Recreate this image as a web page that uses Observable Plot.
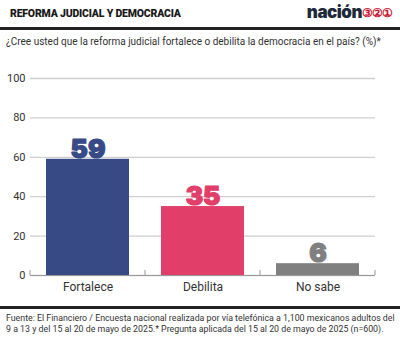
<!DOCTYPE html>
<html><head><meta charset="utf-8">
<script src="https://cdn.jsdelivr.net/npm/d3@7"></script>
<script src="https://cdn.jsdelivr.net/npm/@observablehq/plot@0.6"></script>
<style>
body{margin:0;width:400px;height:343px;background:#fff;font-family:Roboto,"Noto Sans",sans-serif;position:relative;overflow:hidden;color:#333}
#title{position:absolute;left:10px;top:7px;font-size:10.5px;font-weight:900;color:#1a1a1a;letter-spacing:-0.2px}
#logo{position:absolute;right:8px;top:2px;font-family:Inter,Roboto,sans-serif;font-size:17px;font-weight:900;color:#1e2a3a;letter-spacing:-0.5px}
#logo span{color:#c8102e;font-family:Roboto,sans-serif;font-size:12px;font-weight:700;vertical-align:1px;letter-spacing:-1px}
.rule{position:absolute;left:0;width:400px;height:3px;background:#222}
#sub{position:absolute;left:6px;top:36px;font-size:10px;color:#333;white-space:nowrap}
#chart{position:absolute;left:0;top:60px}
#foot{position:absolute;left:6px;top:313px;font-size:8.8px;line-height:11px;color:#333;white-space:nowrap}
</style></head><body>
<div id="title">REFORMA JUDICIAL Y DEMOCRACIA</div>
<div id="logo">nación<span>③②①</span></div>
<div class="rule" style="top:27px"></div>
<div id="sub">¿Cree usted que la reforma judicial fortalece o debilita la democracia en el país? (%)*</div>
<div id="chart"></div>
<div class="rule" style="top:306px"></div>
<div id="foot">Fuente: El Financiero / Encuesta nacional realizada por vía telefónica a 1,100 mexicanos adultos del<br>9 a 13 y del 15 al 20 de mayo de 2025.* Pregunta aplicada del 15 al 20 de mayo de 2025 (n=600).</div>
<script>
const categories = ["Fortalece", "Debilita", "No sabe"];
const values = [59, 35, 6];
const colors = ["#374a85", "#e23e6a", "#808080"];
const yTicks = [0, 20, 40, 60, 80, 100];

const data = categories.map((c, i) => ({cat: c, value: values[i], color: colors[i]}));

const boundaryTicks = (index, scales) => {
  const x = scales.x, y = scales.y;
  const step = x.step(), bw = x.bandwidth();
  const gap = (step - bw) / 2;
  const xs = [x(categories[0]) - gap, ...categories.map(c => x(c) + bw + gap)];
  const g = d3.create("svg:g");
  const y0 = y(0);
  xs.forEach(px => g.append("line").attr("x1", px).attr("x2", px).attr("y1", y0).attr("y2", y0 - 5)
    .attr("stroke", "#999").attr("stroke-width", 1));
  return g.node();
};

const chart = Plot.plot({
  width: 400, height: 240,
  marginLeft: 30, marginRight: 25, marginTop: 18, marginBottom: 25,
  x: {domain: categories, paddingInner: 0.28, paddingOuter: 0.14, label: null},
  y: {domain: [0, 100], label: null},
  style: {fontFamily: "Roboto, 'Noto Sans', sans-serif", background: "transparent", color: "#333"},
  marks: [
    Plot.gridY(yTicks, {stroke: "#cfcfcf", strokeOpacity: 1, strokeWidth: 1.3}),
    Plot.barY(data, {x: "cat", y: "value", fill: "color"}),
    Plot.ruleY([0], {stroke: "#999", strokeWidth: 1}),
    boundaryTicks,
    Plot.text(data, {x: "cat", y: "value", text: d => String(d.value), fill: "color", stroke: "color",
      strokeWidth: 1.2, lineAnchor: "bottom", dy: -1.5, fontSize: 26, fontWeight: 900, fontFamily: "Inter, Roboto, sans-serif"}),
    Plot.axisX({tickSize: 0, tickPadding: 7, fontSize: 12, label: null}),
    Plot.axisY(yTicks, {tickSize: 0, tickPadding: 5, fontSize: 11, label: null})
  ]
});
document.getElementById("chart").append(chart);
</script>
</body></html>
